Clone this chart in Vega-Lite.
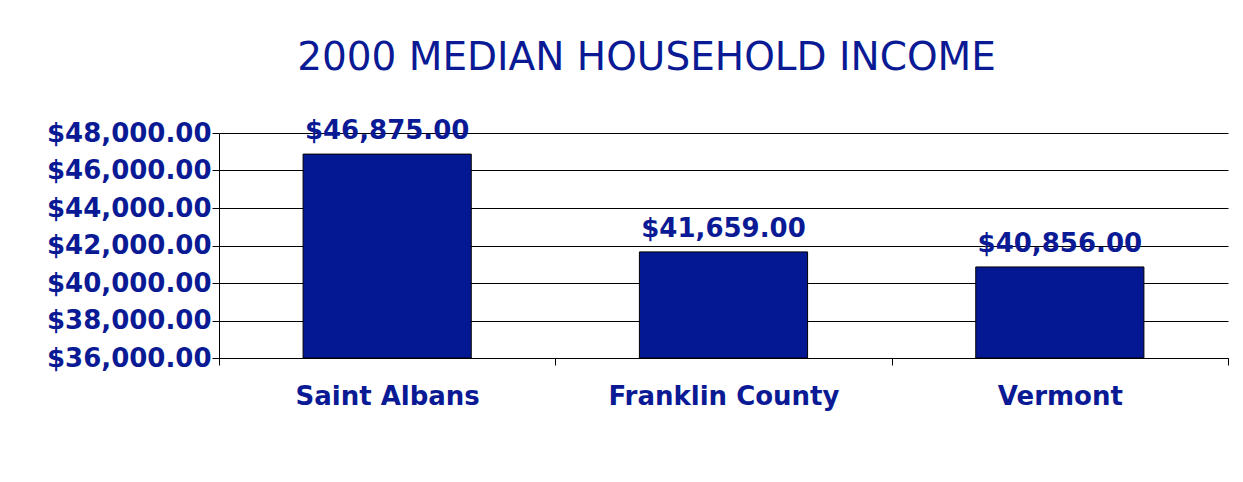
{
  "$schema": "https://vega.github.io/schema/vega-lite/v6.json",
  "width": 1009,
  "height": 225,
  "autosize": {"type": "none"},
  "padding": {"left": 219, "top": 133, "right": 15, "bottom": 124},
  "background": "white",
  "title": {
    "text": "2000 MEDIAN HOUSEHOLD INCOME",
    "font": "DejaVu Sans",
    "fontSize": 39,
    "fontWeight": "normal",
    "color": "#0A1A94",
    "anchor": "middle",
    "dx": -77,
    "offset": 40
  },
  "data": {
    "values": [
      {"place": "Saint Albans", "income": 46875},
      {"place": "Franklin County", "income": 41659},
      {"place": "Vermont", "income": 40856}
    ]
  },
  "config": {
    "view": {"stroke": null},
    "axis": {
      "labelFont": "DejaVu Sans",
      "labelFontSize": 26,
      "labelFontWeight": "bold",
      "labelColor": "#0A1A94",
      "domainColor": "#000000",
      "tickColor": "#000000",
      "tickSize": 7,
      "gridColor": "#000000",
      "gridOpacity": 1,
      "title": null
    }
  },
  "encoding": {
    "x": {
      "field": "place",
      "type": "nominal",
      "sort": null,
      "scale": {"paddingInner": 0, "paddingOuter": 0},
      "axis": {"labelAngle": 0, "tickBand": "extent", "labelPadding": 18, "labelLimit": 500, "grid": false}
    },
    "y": {
      "field": "income",
      "type": "quantitative",
      "scale": {"domain": [36000, 48000], "zero": false, "nice": false},
      "axis": {
        "values": [36000, 38000, 40000, 42000, 44000, 46000, 48000],
        "format": "$,.2f",
        "labelPadding": 1,
        "labelOverlap": false,
        "grid": true
      }
    }
  },
  "layer": [
    {
      "mark": {"type": "bar", "fill": "#041893", "stroke": "#000000", "strokeWidth": 1, "width": {"band": 0.5}},
      "encoding": {
        "y2": {"datum": 36000}
      }
    },
    {
      "mark": {
        "type": "text",
        "font": "DejaVu Sans",
        "fontSize": 26,
        "fontWeight": "bold",
        "color": "#0A1A94",
        "align": "center",
        "baseline": "bottom",
        "dy": -10
      },
      "encoding": {
        "text": {"field": "income", "type": "quantitative", "format": "$,.2f"}
      }
    }
  ]
}
